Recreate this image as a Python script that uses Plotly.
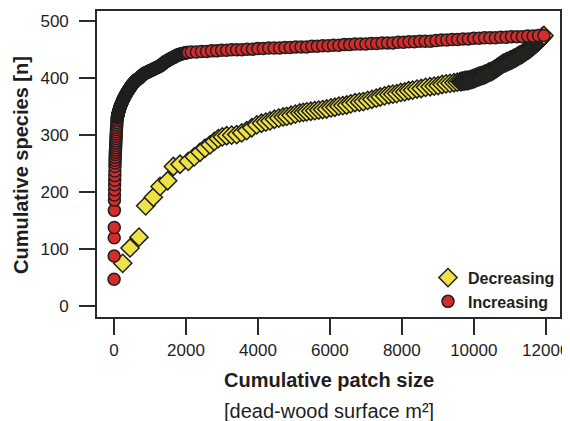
import plotly.graph_objects as go

# ---- Decreasing (largest patches first) ----
dec_x = [242, 445, 695, 880, 1093, 1279, 1492, 1650, 1835, 2066,
         2230, 2391, 2530, 2669, 2790, 2900, 3010, 3132, 3270, 3410,
         3550, 3689, 3830, 3967, 4100, 4220, 4337, 4460, 4580, 4700,
         4800, 4920, 5040, 5160, 5260, 5357, 5470, 5580, 5690, 5800,
         5913, 6030, 6140, 6250, 6360, 6468, 6580, 6700, 6820, 6930,
         7050, 7170, 7290, 7400, 7520, 7640, 7750, 7858, 7970, 8080,
         8190, 8300, 8420, 8540, 8660, 8785, 8900, 9010, 9120, 9230,
         9340, 9450, 9540, 9619,
         9647, 9675, 9703, 9731, 9759, 9787, 9815, 9843, 9871, 9900,
         9925, 9950, 9975, 10000, 10025, 10050, 10075, 10100,
         10126, 10152, 10178, 10204, 10230, 10256, 10282, 10308, 10333, 10358,
         10385, 10412, 10439, 10466, 10493, 10520, 10546, 10573, 10600,
         10622, 10644, 10666, 10688, 10710, 10733, 10755, 10777, 10800, 10822,
         10847, 10872, 10897, 10922, 10947, 10972, 11000,
         11024, 11048, 11072, 11096, 11120, 11145, 11169, 11193,
         11216, 11239, 11262, 11285, 11308, 11331, 11354, 11377, 11400,
         11424, 11447, 11471, 11494, 11518, 11541, 11565,
         11584, 11602, 11621, 11639, 11658, 11676, 11695, 11713, 11732, 11750,
         11765, 11781, 11796, 11812, 11827, 11842, 11858, 11873, 11888, 11904,
         11919, 11935, 11950]
dec_y = [75, 102, 121, 176, 191, 210, 220, 245, 249, 254,
         262, 270, 277, 283, 289, 294, 297, 299, 300, 301,
         304, 308, 313, 318, 321, 323, 325, 328, 330, 332,
         333, 335, 337, 339, 340, 341, 342, 343, 344, 345,
         346, 348, 349, 351, 352, 353, 355, 357, 358, 359,
         361, 363, 365, 367, 369, 371, 372, 373, 375, 376,
         378, 379, 381, 382, 384, 385, 386, 387, 389, 390,
         391, 392, 393, 394,
         394, 395, 395, 395, 396, 396, 396, 396, 397, 397,
         398, 398, 399, 399, 400, 401, 401, 402,
         403, 403, 404, 404, 405, 405, 406, 407, 407, 408,
         409, 410, 411, 411, 412, 413, 414, 415, 416,
         417, 418, 419, 420, 421, 422, 423, 424, 425, 426,
         427, 427, 428, 429, 429, 430, 431,
         432, 432, 433, 434, 435, 435, 436, 437,
         438, 439, 440, 441, 441, 442, 443, 444, 445,
         446, 447, 448, 449, 450, 451, 452,
         453, 454, 455, 456, 457, 458, 459, 460, 461, 462,
         463, 464, 465, 466, 467, 468, 469, 470, 471, 472,
         473, 474, 475]

# ---- Increasing (smallest patches first) ----
inc_x = [2, 4, 6, 8, 10, 12, 14, 16, 18, 20,
         22, 24, 26, 28, 30, 32, 35, 38, 41, 44,
         47, 50, 53, 56, 59, 62, 65, 68, 72, 76,
         80, 85, 90,
         93, 96, 99, 102, 105, 108, 111, 115,
         119, 124, 128, 133, 137, 142, 147, 151, 156, 161, 165, 170,
         177, 183, 190, 197, 203, 210, 217, 223, 230, 237, 243, 250,
         258, 267, 275, 283, 292, 300, 308, 317, 325, 333, 342, 350,
         360, 370, 380, 390, 400, 410, 420, 430,
         441, 452, 464, 475, 486, 497, 509, 520,
         534, 549, 563, 577, 591, 606, 620,
         640, 660, 680, 700, 720, 740,
         760, 780, 800, 820, 840, 860,
         882, 904, 926, 948, 970, 990,
         1013, 1036, 1060, 1083, 1106, 1130,
         1153, 1176, 1200, 1223, 1246, 1270,
         1290, 1310, 1330, 1350, 1370, 1390,
         1410, 1430, 1450, 1470, 1490, 1510,
         1530, 1550, 1570, 1590, 1610, 1630,
         1650, 1670, 1690, 1710, 1730, 1750,
         1775, 1800, 1825, 1850, 1875, 1900,
         1927, 1953, 1980, 2007, 2033, 2060,
         2150, 2290, 2430, 2570, 2710, 2850, 2990, 3130, 3270, 3410,
         3550, 3700, 3850, 4000, 4150, 4300, 4450, 4600, 4750, 4900,
         5050, 5200, 5350, 5500, 5650, 5800, 5950, 6100, 6250, 6400,
         6550, 6700, 6850, 7000, 7150, 7300, 7450, 7600, 7750, 7900,
         8050, 8200, 8350, 8500, 8650, 8800, 8950, 9100, 9250, 9400,
         9550, 9700, 9850, 10000, 10150, 10300, 10450, 10600, 10750, 10900,
         11050, 11200, 11350, 11500, 11650, 11800, 11950]
inc_y = [47, 88, 120, 138, 168, 186, 195, 204, 213, 221,
         229, 237, 245, 251, 256, 261, 266, 270, 274, 278,
         282, 286, 290, 294, 298, 302, 306, 310, 314, 318,
         322, 326, 330,
         331, 332, 333, 334, 335, 336, 337, 338,
         339, 340, 341, 342, 343, 344, 345, 346, 347, 348, 349, 350,
         351, 352, 353, 354, 355, 356, 357, 358, 359, 360, 361, 362,
         363, 364, 365, 366, 367, 368, 369, 370, 371, 372, 373, 374,
         375, 376, 377, 378, 379, 380, 381, 382,
         383, 384, 385, 386, 387, 388, 389, 390,
         391, 392, 393, 394, 395, 396, 397,
         398, 398, 399, 400, 401, 403,
         404, 405, 406, 407, 408, 409,
         409, 410, 411, 411, 412, 413,
         413, 414, 415, 415, 416, 417,
         418, 418, 419, 420, 420, 421,
         422, 423, 424, 425, 426, 427,
         428, 429, 430, 430, 431, 432,
         433, 433, 434, 435, 435, 436,
         437, 437, 438, 439, 439, 440,
         441, 441, 442, 442, 443, 443,
         444, 444, 444, 445, 445, 445,
         446, 446, 447, 447, 448, 448, 449, 449, 450, 450,
         450, 451, 451, 452, 452, 453, 453, 453, 454, 454,
         455, 455, 455, 456, 456, 457, 457, 458, 458, 459,
         459, 460, 460, 460, 461, 461, 462, 462, 462, 463,
         463, 464, 464, 465, 465, 465, 466, 467, 467, 468,
         468, 469, 469, 470, 470, 471, 471, 471, 472, 472,
         473, 473, 473, 474, 474, 475, 475]

x_ticks = [0, 2000, 4000, 6000, 8000, 10000, 12000]
y_ticks = [0, 100, 200, 300, 400, 500]

n_dec = min(len(dec_x), len(dec_y))
n_inc = min(len(inc_x), len(inc_y))

FONT = "Liberation Sans, Arial, Helvetica, sans-serif"
TXT = "#1e1e1e"
LINE = "#2a2a2a"

fig = go.Figure()
fig.add_trace(go.Scatter(
    x=dec_x[:n_dec], y=dec_y[:n_dec], mode="markers", name="<b>Decreasing</b>",
    marker=dict(symbol="diamond", size=14, color="#EFE246",
                line=dict(color="#1f1f1f", width=1.5)),
))
fig.add_trace(go.Scatter(
    x=inc_x[:n_inc], y=inc_y[:n_inc], mode="markers", name="<b>Increasing</b>",
    marker=dict(symbol="circle", size=12, color="#D42B2B",
                line=dict(color="#1f1f1f", width=1.5)),
))

axis_common = dict(
    showline=True, mirror=True, linecolor=LINE, linewidth=1.6,
    ticks="outside", ticklen=16, tickwidth=1.5, tickcolor=LINE,
    showgrid=False, zeroline=False,
    tickfont=dict(family=FONT, size=17, color=TXT),
)

# page has an 8px body margin; plot area sits at page x 97..560, y 9..317
PB = 317.0   # plot bottom (page px)
PH = 308.0   # plot height
fig.update_layout(
    width=562, height=413,
    margin=dict(l=89, r=10, t=1, b=104),
    paper_bgcolor="white", plot_bgcolor="white",
    showlegend=True,
    legend=dict(
        x=(428 - 97) / 463, y=(PB - 260.3) / PH,
        xanchor="left", yanchor="top",
        bgcolor="rgba(0,0,0,0)", borderwidth=0,
        font=dict(family=FONT, size=16, color=TXT),
        itemwidth=30, tracegroupgap=0,
    ),
    xaxis=dict(range=[-473, 12397], tickvals=x_ticks,
               ticktext=[str(v) for v in x_ticks], ticklabelstandoff=1,
               **axis_common),
    yaxis=dict(range=[-19.2, 518], tickvals=y_ticks,
               ticktext=[str(v) for v in y_ticks], ticklabelstandoff=7,
               **axis_common),
    annotations=[
        dict(text="<b>Cumulative patch size</b>", xref="paper", yref="paper",
             x=0.5, y=(PB - 380) / PH, xanchor="center", yanchor="middle",
             showarrow=False, font=dict(family=FONT, size=20, color=TXT)),
        dict(text="[dead-wood surface m²]", xref="paper", yref="paper",
             x=0.5, y=(PB - 411.7) / PH, xanchor="center", yanchor="middle",
             showarrow=False, font=dict(family=FONT, size=20, color=TXT)),
        dict(text="<b>Cumulative species [n]</b>", xref="paper", yref="paper",
             x=(21 - 97) / 463, y=(PB - 164) / PH, xanchor="center",
             yanchor="middle", textangle=-90, showarrow=False,
             font=dict(family=FONT, size=20, color=TXT)),
    ],
)

fig.write_html("out.html")
